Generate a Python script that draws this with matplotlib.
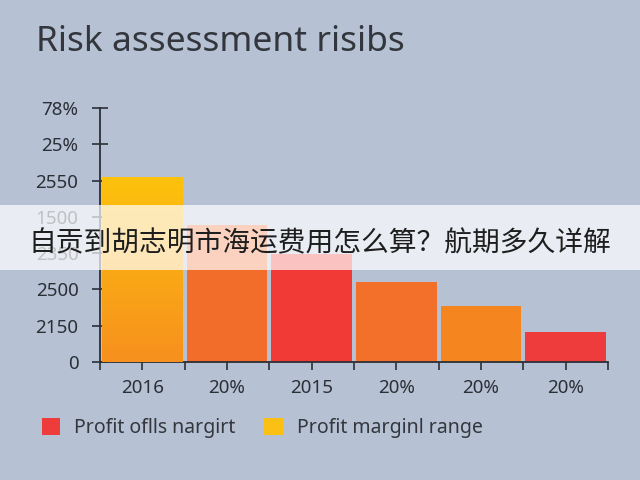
import numpy as np
import matplotlib
matplotlib.use("Agg")
import matplotlib.pyplot as plt
from matplotlib.patches import Rectangle, Patch

plt.rcParams['font.family'] = ['Noto Sans', 'DejaVu Sans']

# datos (alturas en unidades de marca del eje y)
categorias = ['2016', '20%', '2015', '20%', '20%', '20%']
valores = [5.1, 3.77, 2.97, 2.2, 1.54, 0.83]
colores = ['#F9A51A', '#F26C2A', '#F13A36', '#F2702A', '#F5861F', '#EE3B3B']
etiquetas_y = ['0', '2150', '2500', '2350', '1500', '2550', '25%', '78%']
leyenda = ['Profit oflls nargirt', 'Profit marginl range']
colores_leyenda = ['#EE3B3B', '#FBC014']
titulo = 'Risk assessment risibs'
banner = '自贡到胡志明市海运费用怎么算？航期多久详解'

fondo = '#B6C2D4'
gris = '#2B2F36'

fig = plt.figure(figsize=(6.4, 4.8), dpi=100, facecolor=fondo)
ax = fig.add_axes([100/640, 1-362/480, 508/640, 254/480])
ax.set_facecolor(fondo)

x = np.arange(len(categorias))
barras = ax.bar(x, valores, width=0.95, color=colores, zorder=2)

# degradado de la primera barra (amarillo arriba, naranja abajo)
b0 = barras[0]
grad = np.linspace(0, 1, 100).reshape(-1, 1)
cmap = matplotlib.colors.LinearSegmentedColormap.from_list('g', ['#F7901E', '#FDC20C'])
img = ax.imshow(grad, cmap=cmap, origin='lower', aspect='auto',
                extent=[b0.get_x(), b0.get_x() + b0.get_width(), 0, b0.get_height()], zorder=3)
img.set_clip_path(b0)

ax.set_xlim(-0.5, len(categorias) - 0.5)
ax.set_ylim(0, len(etiquetas_y) - 1)
ax.set_yticks(range(len(etiquetas_y)))
ax.set_yticklabels(etiquetas_y)
ax.set_xticks(x)
ax.set_xticklabels(categorias)
ax.set_xticks(np.arange(-0.5, len(categorias)), minor=True)

for s in ['top', 'right']:
    ax.spines[s].set_visible(False)
for s in ['left', 'bottom']:
    ax.spines[s].set_color(gris)
    ax.spines[s].set_linewidth(1.3)

ax.tick_params(axis='y', direction='inout', length=11, width=1.2, colors=gris,
               labelsize=13.5, pad=10)
ax.tick_params(axis='x', which='both', direction='out', length=6, width=1.2, colors=gris,
               labelsize=13.5, pad=6)

fig.text(36/640, 1-42/480, titulo, fontsize=25.5, color='#33373D', va='center', ha='left')

handles = [Patch(facecolor=c, edgecolor='none') for c in colores_leyenda]
fig.legend(handles, leyenda, loc='center left', bbox_to_anchor=(0.038, 1-428/480),
           ncol=2, frameon=False, fontsize=14, handlelength=0.95, handleheight=0.95,
           columnspacing=1.5, handletextpad=0.7, labelcolor='#33373D')

# franja blanca semitransparente con texto
fig.patches.append(Rectangle((0, 1-270/480), 1, 65/480, transform=fig.transFigure,
                             facecolor='white', alpha=0.7, edgecolor='none', zorder=10))
fig.text(0.5, 1-243/480, banner, fontsize=20, color='#1E1E1E', ha='center', va='center',
         family=['Noto Sans CJK SC', 'DejaVu Sans'], zorder=11)

fig.savefig('out.png', dpi=100, facecolor=fondo)
